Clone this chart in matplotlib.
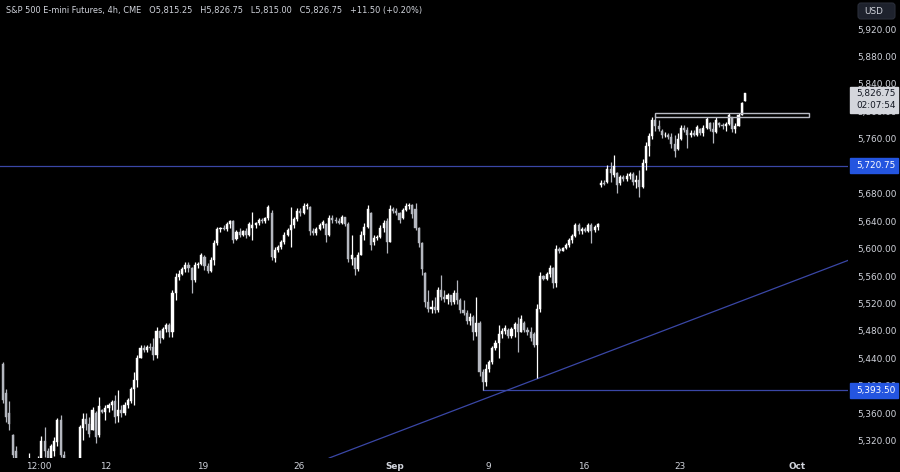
import matplotlib
matplotlib.use("Agg")
import matplotlib.pyplot as plt
from matplotlib.patches import Rectangle, FancyBboxPatch
from matplotlib import font_manager as fm
import numpy as np

# ---------------- data ----------------
opens = [5432, 5390, 5360, 5328, 5305, 5260, 5270, 5250, 5275, 5285,
         5270, 5280, 5290, 5320, 5305, 5290, 5305, 5318, 5350, 5300,
         5270, 5255, 5275, 5280, 5295, 5338, 5352, 5345, 5335, 5360,
         5328, 5365, 5362, 5368, 5372, 5378, 5356, 5365, 5360, 5372,
         5378, 5395, 5408, 5440, 5455, 5453, 5456, 5456, 5445, 5480,
         5470, 5483, 5488, 5478, 5535, 5558, 5563, 5570, 5576, 5572,
         5555, 5576, 5578, 5588, 5574, 5568, 5584, 5608, 5628, 5630,
         5628, 5636, 5640, 5614, 5624, 5620, 5625, 5620, 5630, 5634,
         5637, 5642, 5640, 5644, 5652, 5586, 5598, 5603, 5609, 5620,
         5627, 5634, 5643, 5655, 5652, 5662, 5660, 5625, 5623, 5629,
         5634, 5636, 5620, 5645, 5642, 5640, 5638, 5646, 5636, 5585,
         5586, 5570, 5590, 5620, 5632, 5652, 5610, 5615, 5617, 5630,
         5640, 5610, 5658, 5655, 5652, 5645, 5656, 5662, 5664, 5658,
         5630, 5608, 5565, 5522, 5512, 5515, 5510, 5540, 5530, 5526,
         5532, 5522, 5535, 5525, 5510, 5506, 5495, 5500, 5478, 5492,
         5420, 5405, 5425, 5435, 5455, 5463, 5475, 5480, 5482, 5472,
         5483, 5490, 5478, 5492, 5482, 5478, 5475, 5460, 5512, 5560,
         5556, 5563, 5572, 5550, 5600, 5597, 5601, 5605, 5612, 5619,
         5634, 5626, 5628, 5626, 5634, 5627, 5631, 5692, 5696, 5697,
         5716, 5707, 5710, 5695, 5704, 5702, 5706, 5709, 5697, 5700,
         5690, 5725, 5750, 5764, 5788, 5778, 5772, 5765, 5766, 5763,
         5752, 5745, 5760, 5776, 5773, 5765, 5768, 5766, 5775, 5768,
         5776, 5783, 5775, 5770, 5783, 5780, 5778, 5782, 5792, 5775,
         5779, 5795, 5815.25]
highs = [5435, 5396, 5378, 5330, 5312, 5285, 5290, 5280, 5302, 5295,
         5290, 5298, 5327, 5340, 5310, 5316, 5326, 5353, 5357, 5305,
         5285, 5280, 5292, 5295, 5343, 5360, 5360, 5355, 5369, 5364,
         5384, 5366, 5372, 5375, 5380, 5386, 5394, 5372, 5376, 5382,
         5398, 5420, 5445, 5460, 5460, 5460, 5462, 5470, 5486, 5482,
         5486, 5491, 5491, 5540, 5565, 5569, 5573, 5580, 5580, 5573,
         5580, 5581, 5594, 5590, 5579, 5588, 5613, 5632, 5632, 5634,
         5639, 5642, 5642, 5627, 5630, 5627, 5630, 5639, 5653, 5639,
         5645, 5645, 5646, 5664, 5656, 5602, 5605, 5612, 5624, 5630,
         5660, 5646, 5659, 5659, 5666, 5666, 5662, 5630, 5632, 5637,
         5642, 5638, 5649, 5649, 5646, 5645, 5649, 5646, 5639, 5620,
         5588, 5595, 5625, 5637, 5664, 5654, 5620, 5620, 5635, 5642,
         5645, 5664, 5660, 5659, 5653, 5659, 5666, 5667, 5665, 5666,
         5632, 5610, 5566, 5540, 5525, 5530, 5544, 5562, 5540, 5535,
         5533, 5540, 5554, 5528, 5525, 5511, 5506, 5503, 5530, 5495,
         5425, 5432, 5438, 5458, 5467, 5488, 5485, 5489, 5484, 5486,
         5493, 5500, 5503, 5494, 5486, 5486, 5478, 5520, 5566, 5562,
         5566, 5576, 5573, 5605, 5603, 5603, 5608, 5615, 5622, 5638,
         5637, 5631, 5631, 5637, 5637, 5634, 5638, 5700, 5700, 5722,
         5726, 5736, 5712, 5707, 5708, 5710, 5712, 5711, 5708, 5714,
         5730, 5756, 5768, 5792, 5795, 5787, 5774, 5770, 5768, 5769,
         5765, 5768, 5780, 5780, 5777, 5773, 5773, 5780, 5776, 5780,
         5792, 5785, 5784, 5792, 5785, 5783, 5785, 5797, 5792, 5783,
         5797, 5814, 5826.75]
lows = [5375, 5348, 5335, 5290, 5250, 5230, 5240, 5235, 5255, 5260,
        5250, 5265, 5285, 5296, 5280, 5285, 5298, 5313, 5296, 5260,
        5245, 5240, 5260, 5265, 5290, 5321, 5336, 5325, 5335, 5317,
        5326, 5360, 5350, 5362, 5365, 5346, 5348, 5354, 5358, 5368,
        5375, 5372, 5398, 5440, 5450, 5450, 5452, 5437, 5440, 5462,
        5468, 5478, 5471, 5471, 5525, 5554, 5562, 5566, 5566, 5535,
        5551, 5572, 5576, 5569, 5564, 5566, 5576, 5605, 5624, 5627,
        5626, 5630, 5608, 5612, 5617, 5618, 5616, 5618, 5613, 5630,
        5634, 5638, 5637, 5641, 5583, 5580, 5595, 5600, 5607, 5618,
        5602, 5630, 5640, 5648, 5650, 5658, 5620, 5620, 5620, 5627,
        5630, 5610, 5618, 5638, 5637, 5636, 5636, 5633, 5580, 5576,
        5562, 5568, 5590, 5612, 5630, 5598, 5606, 5612, 5615, 5624,
        5594, 5609, 5652, 5649, 5637, 5643, 5655, 5658, 5644, 5627,
        5602, 5562, 5515, 5508, 5506, 5506, 5508, 5525, 5522, 5520,
        5518, 5520, 5520, 5506, 5503, 5490, 5488, 5467, 5472, 5415,
        5393.5, 5400, 5420, 5432, 5452, 5440, 5470, 5476, 5470, 5470,
        5471, 5450, 5478, 5478, 5474, 5466, 5456, 5412, 5508, 5554,
        5555, 5558, 5542, 5544, 5594, 5596, 5600, 5602, 5608, 5617,
        5622, 5622, 5624, 5624, 5608, 5624, 5627, 5690, 5692, 5695,
        5697, 5704, 5681, 5692, 5699, 5699, 5702, 5692, 5688, 5675,
        5688, 5715, 5735, 5760, 5771, 5772, 5761, 5762, 5760, 5746,
        5733, 5744, 5758, 5770, 5746, 5762, 5764, 5764, 5765, 5764,
        5775, 5772, 5754, 5768, 5777, 5775, 5772, 5780, 5770, 5768,
        5778, 5794, 5815.0]
closes = [5380, 5355, 5345, 5300, 5260, 5270, 5250, 5275, 5285, 5270,
          5280, 5290, 5320, 5305, 5290, 5312, 5320, 5350, 5300, 5270,
          5255, 5275, 5280, 5290, 5340, 5352, 5345, 5330, 5365, 5325,
          5370, 5362, 5368, 5372, 5376, 5355, 5365, 5360, 5372, 5380,
          5395, 5408, 5440, 5455, 5453, 5456, 5455, 5445, 5480, 5470,
          5483, 5488, 5478, 5535, 5558, 5563, 5570, 5576, 5572, 5555,
          5576, 5578, 5590, 5574, 5568, 5584, 5608, 5628, 5630, 5628,
          5636, 5640, 5612, 5624, 5620, 5625, 5620, 5636, 5634, 5637,
          5642, 5640, 5644, 5660, 5588, 5598, 5603, 5609, 5620, 5627,
          5634, 5643, 5655, 5652, 5662, 5664, 5625, 5623, 5629, 5634,
          5639, 5620, 5645, 5642, 5640, 5638, 5646, 5636, 5585, 5590,
          5570, 5590, 5620, 5632, 5658, 5605, 5615, 5617, 5630, 5638,
          5610, 5658, 5655, 5652, 5642, 5656, 5662, 5664, 5650, 5630,
          5608, 5570, 5522, 5512, 5515, 5510, 5540, 5530, 5526, 5532,
          5522, 5535, 5525, 5510, 5506, 5495, 5500, 5478, 5492, 5420,
          5405, 5425, 5435, 5455, 5463, 5475, 5480, 5485, 5472, 5483,
          5490, 5478, 5498, 5482, 5478, 5470, 5460, 5512, 5560, 5556,
          5563, 5572, 5550, 5600, 5597, 5601, 5605, 5612, 5619, 5634,
          5626, 5628, 5626, 5634, 5625, 5631, 5636, 5696, 5694, 5716,
          5710, 5720, 5692, 5704, 5702, 5706, 5709, 5697, 5700, 5690,
          5725, 5750, 5764, 5788, 5778, 5775, 5765, 5766, 5763, 5752,
          5742, 5760, 5776, 5773, 5765, 5768, 5766, 5777, 5768, 5776,
          5789, 5775, 5770, 5788, 5780, 5778, 5782, 5794, 5775, 5779,
          5795, 5812, 5826.75]

date_tick_pos = [11.3, 32.2, 62.5, 92.4, 122.6, 151.7, 181.7, 211.7, 248.3]
date_tick_labels = ["12:00", "12", "19", "26", "Sep", "9", "16", "23", "Oct"]
bold_labels = ["Sep", "Oct"]

price_ticks = list(range(5320, 5921, 40))
level_hi = 5720.75
level_lo = 5393.50
trend_x = [106, 266]
trend_y = [5302, 5586]
box_x = [204, 252]
box_y = [5792.0, 5797.5]
last_price = 5826.75
countdown = "02:07:54"
title = ("S&P 500 E-mini Futures, 4h, CME   O5,815.25   H5,826.75   "
         "L5,815.00   C5,826.75   +11.50 (+0.20%)")

# ---------------- styling ----------------
BG = "#000000"
TXT = "#d1d4dc"
UP = "#ffffff"
DOWN = "#b4b7bf"
LINE = "#3a47a6"
TAG = "#2455e0"

names = {f.name for f in fm.fontManager.ttflist}
FONT = "Liberation Sans Narrow" if "Liberation Sans Narrow" in names else "DejaVu Sans"
FS = 8.0 if FONT == "Liberation Sans Narrow" else 6.4
plt.rcParams["font.family"] = [FONT, "DejaVu Sans"]

W, H = 900, 472
fig = plt.figure(figsize=(W / 100, H / 100), dpi=100, facecolor=BG)
ax = fig.add_axes([0, 14 / H, 848 / W, 458 / H], facecolor=BG)

n = len(closes)
x = np.arange(n)
o = np.array(opens); c = np.array(closes); hi = np.array(highs); lo = np.array(lows)
up = c >= o
cols = np.where(up, UP, DOWN)

ax.vlines(x, lo, hi, colors=cols, linewidth=0.9, zorder=3)
body_lo = np.minimum(o, c)
body_h = np.maximum(np.abs(c - o), 0.9)
ax.bar(x, body_h, bottom=body_lo, width=0.66, color=cols, edgecolor=cols,
       linewidth=0.3, zorder=4)

pitch = 3.198
x_left = -3 / pitch
x_right = (848 - 3) / pitch
ax.set_xlim(x_left, x_right)
ax.set_ylim(5294.9, 5962.3)

# drawings
ax.axhline(level_hi, color=LINE, linewidth=0.9, zorder=2)
lo_start = lows.index(level_lo)
ax.plot([lo_start, x_right + 5], [level_lo, level_lo], color=LINE,
        linewidth=0.9, zorder=2)
ax.axline((trend_x[0], trend_y[0]), (trend_x[1], trend_y[1]), color=LINE,
          linewidth=0.9, zorder=2)
ax.add_patch(Rectangle((box_x[0], box_y[0]), box_x[1] - box_x[0],
                       box_y[1] - box_y[0], fill=False, edgecolor="#b8bbc4",
                       linewidth=1.0, zorder=5))

# axes styling
for s in ax.spines.values():
    s.set_visible(False)
ax.yaxis.tick_right()
ax.set_yticks(price_ticks)
ax.set_yticklabels([f"{v:,.2f}" for v in price_ticks])
ax.tick_params(axis="y", length=0, pad=6.5, labelsize=FS, labelcolor=TXT)
ax.set_xticks(date_tick_pos)
ax.set_xticklabels(date_tick_labels)
ax.tick_params(axis="x", length=0, pad=3, labelsize=FS, labelcolor=TXT)
for t in ax.get_xticklabels():
    if t.get_text() in bold_labels:
        t.set_fontweight("bold")
ax.grid(False)

# overlay in pixel coords for tags
ov = fig.add_axes([0, 0, 1, 1], zorder=10)
ov.set_xlim(0, W)
ov.set_ylim(H, 0)
ov.axis("off")
ov.patch.set_alpha(0)

def py(price):
    return H - ax.transData.transform((0, price))[1]

for lvl in (level_hi, level_lo):
    yy = py(lvl)
    ov.add_patch(Rectangle((850, yy - 7.5), 48, 15, facecolor=TAG,
                           edgecolor=TAG, zorder=11))
    ov.text(856, yy, f"{lvl:,.2f}", color="white", fontsize=FS,
            va="center", ha="left", zorder=12)

yy = py(last_price)
ov.add_patch(Rectangle((850, yy - 6.5), 48, 26, facecolor="#d4d6dc",
                       edgecolor="#d4d6dc", zorder=11))
ov.text(856, yy, f"{last_price:,.2f}", color="#131722", fontsize=FS,
        va="center", ha="left", zorder=12)
ov.text(856, yy + 12.5, countdown, color="#131722", fontsize=FS,
        va="center", ha="left", zorder=12)

ov.add_patch(FancyBboxPatch((858, 3), 37, 16, boxstyle="round,pad=0,rounding_size=3",
                            facecolor="#1e222d", edgecolor="#2a2e39",
                            linewidth=0.8, zorder=11))
ov.text(864, 11, "USD", color=TXT, fontsize=FS, va="center", ha="left", zorder=12)

tt = ov.text(6, 10.5, title, color=TXT, fontsize=FS, va="center", ha="left",
             zorder=12)
fig.canvas.draw()
wpx = tt.get_window_extent().width
if wpx > 0:
    tt.set_fontsize(FS * 419 / wpx)

fig.savefig("out.png", dpi=100, facecolor=BG)
